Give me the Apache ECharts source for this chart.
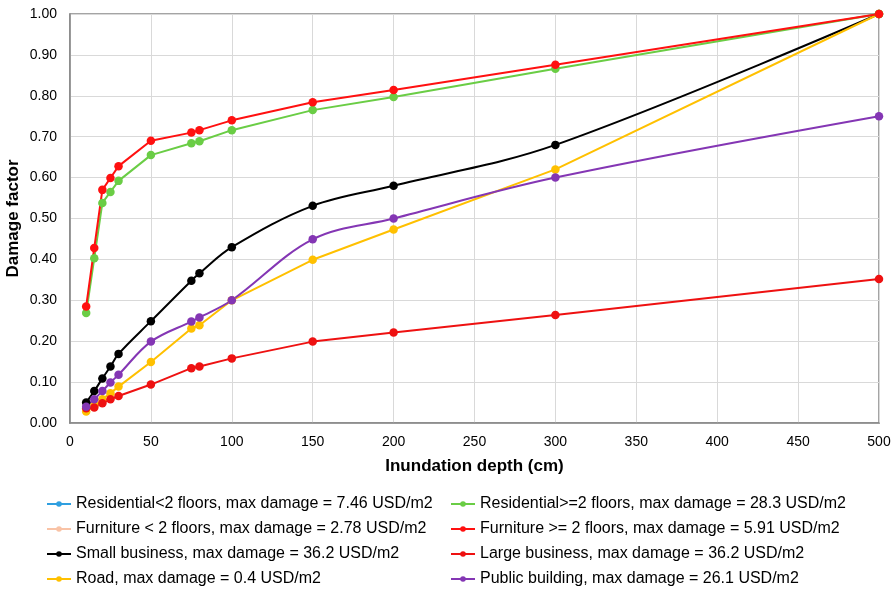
<!DOCTYPE html>
<html>
<head>
<meta charset="utf-8">
<script src="https://cdn.jsdelivr.net/npm/echarts@6/dist/echarts.min.js"></script>
<style>
  html, body { margin: 0; padding: 0; background: #fff; }
  #chart { width: 896px; height: 590px; }
</style>
</head>
<body>
<div id="chart"></div>
<script>
// Inundation depths (cm) shared by all damage curves
const depths = [10, 15, 20, 25, 30, 50, 75, 80, 100, 150, 200, 300, 500];

// Damage factors per land-use class
const residentialLow = [];
const furnitureLow = [];
const residentialHigh = [0.269, 0.403, 0.538, 0.565, 0.592, 0.655, 0.684, 0.689, 0.716, 0.765, 0.797, 0.866, 1.00];
const furnitureHigh = [0.285, 0.428, 0.570, 0.599, 0.628, 0.690, 0.710, 0.716, 0.740, 0.784, 0.814, 0.876, 1.00];
const smallBusiness = [0.050, 0.078, 0.109, 0.138, 0.169, 0.249, 0.348, 0.366, 0.430, 0.531, 0.580, 0.680, 1.00];
const largeBusiness = [0.036, 0.038, 0.048, 0.058, 0.066, 0.094, 0.134, 0.138, 0.158, 0.199, 0.221, 0.264, 0.352];
const road = [0.028, 0.042, 0.058, 0.073, 0.089, 0.149, 0.231, 0.239, 0.300, 0.399, 0.473, 0.620, 1.00];
const publicBuilding = [0.040, 0.058, 0.078, 0.099, 0.118, 0.199, 0.248, 0.258, 0.300, 0.449, 0.500, 0.600, 0.750];

const names = {
  resLow: 'Residential<2 floors, max damage = 7.46 USD/m2',
  resHigh: 'Residential>=2 floors, max damage = 28.3 USD/m2',
  furLow: 'Furniture < 2 floors, max damage = 2.78 USD/m2',
  furHigh: 'Furniture >= 2 floors, max damage = 5.91 USD/m2',
  small: 'Small business, max damage = 36.2 USD/m2',
  large: 'Large business, max damage = 36.2 USD/m2',
  road: 'Road, max damage = 0.4 USD/m2',
  pub: 'Public building, max damage = 26.1 USD/m2'
};

const FONT = '"Liberation Sans", Arial, sans-serif';

function pairs(vals) {
  return vals.map((v, i) => [depths[i], v]);
}

function line(name, vals, color, smooth) {
  return {
    name: name,
    type: 'line',
    data: pairs(vals),
    smooth: smooth ? 0.35 : false,
    symbol: 'circle',
    symbolSize: 8.5,
    itemStyle: { color: color },
    lineStyle: { color: color, width: 2 },
    emphasis: { disabled: true }
  };
}

const series = [
  line(names.resLow, residentialLow, '#2f9fe0', false),
  line(names.furLow, furnitureLow, '#f9c3a6', false),
  line(names.small, smallBusiness, '#000000', true),
  line(names.road, road, '#ffc000', false),
  line(names.resHigh, residentialHigh, '#6acd45', false),
  line(names.large, largeBusiness, '#ee1111', false),
  line(names.pub, publicBuilding, '#8436b4', true),
  line(names.furHigh, furnitureHigh, '#ff1010', false)
];

const legendBase = {
  orient: 'vertical',
  top: 496,
  height: 94,
  padding: 0,
  itemGap: 9,
  itemWidth: 24,
  itemHeight: 7,
  textStyle: { fontFamily: FONT, fontSize: 16, color: '#000' },
  selectedMode: false
};

const chart = echarts.init(document.getElementById('chart'), null, { renderer: 'canvas' });
chart.setOption({
  animation: false,
  backgroundColor: '#ffffff',
  grid: {
    left: 70, right: 17, top: 14, bottom: 167, containLabel: false,
    outerBoundsMode: 'none',
    show: true, borderColor: '#868686', borderWidth: 1.5
  },
  legend: [
    Object.assign({}, legendBase, { left: 46, data: [names.resLow, names.furLow, names.small, names.road] }),
    Object.assign({}, legendBase, { left: 450, data: [names.resHigh, names.furHigh, names.large, names.pub] })
  ],
  xAxis: {
    type: 'value',
    min: 0,
    max: 500,
    interval: 50,
    name: 'Inundation depth (cm)',
    nameLocation: 'middle',
    nameGap: 35,
    nameMoveOverlap: false,
    nameTextStyle: { fontFamily: FONT, fontSize: 17, fontWeight: 'bold', color: '#000' },
    axisLine: { lineStyle: { color: '#868686', width: 1.5 } },
    axisTick: { show: false },
    axisLabel: { fontFamily: FONT, fontSize: 14, color: '#000', margin: 12 },
    splitLine: { show: true, lineStyle: { color: '#d9d9d9', width: 1 } }
  },
  yAxis: {
    type: 'value',
    min: 0,
    max: 1,
    interval: 0.1,
    name: 'Damage factor',
    nameLocation: 'middle',
    nameGap: 48,
    nameMoveOverlap: false,
    nameTextStyle: { fontFamily: FONT, fontSize: 17, fontWeight: 'bold', color: '#000' },
    axisLine: { show: true, lineStyle: { color: '#868686', width: 1.5 } },
    axisTick: { show: false },
    axisLabel: {
      fontFamily: FONT, fontSize: 14, color: '#000', margin: 13,
      formatter: v => v.toFixed(2)
    },
    splitLine: { show: true, lineStyle: { color: '#d9d9d9', width: 1 } }
  },
  series: series
});
</script>
</body>
</html>
